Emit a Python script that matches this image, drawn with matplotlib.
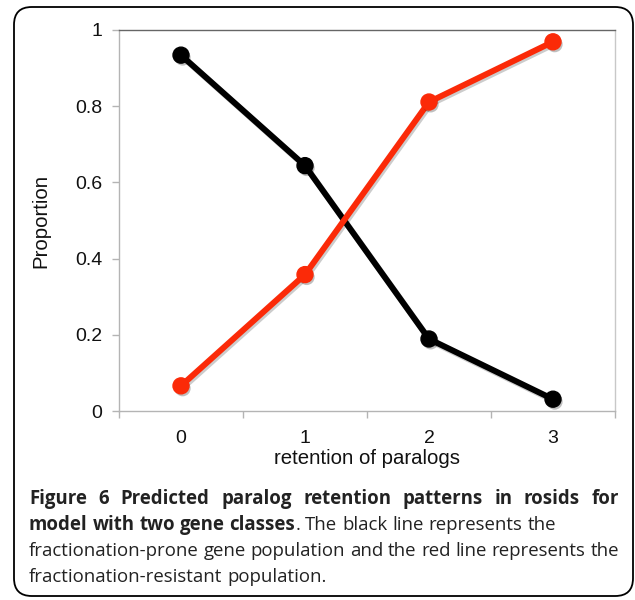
import matplotlib
matplotlib.use("Agg")
import matplotlib.pyplot as plt
from matplotlib.patches import FancyBboxPatch
import matplotlib.patheffects as pe

# ---- data ----
categories = ["0", "1", "2", "3"]
prone = [0.934, 0.644, 0.189, 0.031]      # black line
resistant = [0.066, 0.358, 0.811, 0.969]  # red line
yticks = [0, 0.2, 0.4, 0.6, 0.8, 1]
ytick_labels = ["0", "0.2", "0.4", "0.6", "0.8", "1"]

W, H = 635, 600
fig = plt.figure(figsize=(W / 100, H / 100), dpi=100)
fig.patch.set_facecolor("white")

# outer rounded frame
frame = FancyBboxPatch((14 / W, 4 / H), (633 - 14) / W, (593 - 4) / H,
                       boxstyle="round,pad=0,rounding_size=0.028",
                       transform=fig.transFigure, fill=False,
                       edgecolor="black", linewidth=1.3, mutation_aspect=W / H)
fig.patches.append(frame)

ax = fig.add_axes([119 / W, 1 - 411 / H, (615 - 119) / W, (411 - 30) / H])
x = list(range(len(categories)))

red = "#fb2a08"
shadow = [pe.SimpleLineShadow(offset=(1.2, -1.5), alpha=0.2, shadow_color="black"), pe.Normal()]
mshadow = [pe.SimplePatchShadow(offset=(1.2, -1.8), alpha=0.25, shadow_rgbFace="black"), pe.Normal()]

ax.plot(x, prone, color="black", lw=4.3, solid_capstyle="round", path_effects=shadow, zorder=3)
ax.plot(x, resistant, color=red, lw=4.3, solid_capstyle="round", path_effects=shadow, zorder=3)
ax.plot(x, prone, ls="none", marker="o", ms=11.5, color="black", path_effects=mshadow, zorder=4)
ax.plot(x, resistant, ls="none", marker="o", ms=11.5, color=red, path_effects=mshadow, zorder=4)

ax.set_xlim(-0.5, 3.5)
ax.set_ylim(0, 1)
ax.set_xticks(x)
ax.set_xticklabels(categories)
ax.set_xticks([-0.5, 0.5, 1.5, 2.5, 3.5], minor=True)
ax.set_yticks(yticks)
ax.set_yticklabels(ytick_labels)

fam = ["Liberation Sans", "DejaVu Sans"]
for lab in ax.get_xticklabels() + ax.get_yticklabels():
    lab.set_fontfamily(fam)
    lab.set_fontsize(14)
    lab.set_color("#111111")

ax.tick_params(axis="x", which="major", length=0, pad=14)
ax.tick_params(axis="x", which="minor", length=5, color="#b4b4b4", width=1)
ax.tick_params(axis="y", which="major", length=5, color="#b4b4b4", width=1, pad=7)

ax.spines["left"].set_color("#b4b4b4")
ax.spines["bottom"].set_color("#b4b4b4")
ax.spines["right"].set_color("#c8c8c8")
ax.spines["top"].set_color("#666666")
for s in ax.spines.values():
    s.set_linewidth(1.0)

ax.set_xlabel("retention of paralogs", fontfamily=fam, fontsize=14.7, labelpad=1, color="#111111")
ax.set_ylabel("Proportion", fontfamily=fam, fontsize=14.7, labelpad=18, color="#111111")

# ---- caption with justification ----
cap_family = ["Open Sans", "DejaVu Sans"]
cap_size = 13.4
lines = [
    ([("Figure", True), ("6", True), ("Predicted", True), ("paralog", True), ("retention", True),
      ("patterns", True), ("in", True), ("rosids", True), ("for", True)], True),
    ([("model", True), ("with", True), ("two", True), ("gene", True), ("classes", True),
      (".", False), ("The", False), ("black", False), ("line", False), ("represents", False),
      ("the", False)], False),
    ([("fractionation-prone", False), ("gene", False), ("population", False), ("and", False),
      ("the", False), ("red", False), ("line", False), ("represents", False), ("the", False)], True),
    ([("fractionation-resistant", False), ("population.", False)], False),
]
baselines = [504, 530, 556, 582]
x_left, x_right = 29, 619

fig.canvas.draw()
renderer = fig.canvas.get_renderer()

def make(word, bold, xpx, ypx):
    return fig.text(xpx / W, 1 - ypx / H, word, fontfamily=cap_family, fontsize=cap_size,
                    fontweight="bold" if bold else "normal", ha="left", va="baseline",
                    color="#222222")

space_t = fig.text(0, 0, "a a", fontfamily=cap_family, fontsize=cap_size)
aa = fig.text(0, 0, "aa", fontfamily=cap_family, fontsize=cap_size)
sp = space_t.get_window_extent(renderer).width - aa.get_window_extent(renderer).width
space_t.remove(); aa.remove()

for (words, justify), yb in zip(lines, baselines):
    texts = [make(w, b, 0, yb) for w, b in words]
    widths = [t.get_window_extent(renderer).width for t in texts]
    gaps_idx = [i for i in range(1, len(words)) if words[i][0] != "."]
    total = sum(widths)
    if justify:
        gap = (x_right - x_left - total) / len(gaps_idx)
    else:
        gap = sp
    cur = x_left
    for i, (t, w) in enumerate(zip(texts, widths)):
        if i in gaps_idx:
            cur += gap
        t.set_x(cur / W)
        cur += w

fig.savefig("out.png", dpi=100, facecolor="white")
